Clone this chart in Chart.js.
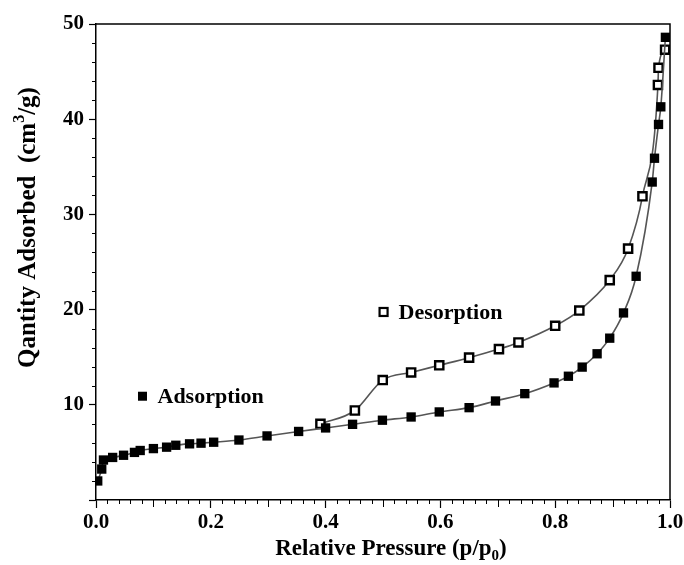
<!DOCTYPE html>
<html>
<head>
<meta charset="utf-8">
<script src="https://cdn.jsdelivr.net/npm/chart.js@4.4.1/dist/chart.umd.min.js"></script>
<style>
  html, body { margin: 0; padding: 0; background: #fff; }
</style>
</head>
<body>
<canvas id="isotherm" width="684" height="565"></canvas>
<script>
// values
const pressureAds = [0.003, 0.010, 0.013, 0.029, 0.048, 0.067, 0.077, 0.100, 0.123, 0.139,
  0.163, 0.183, 0.205, 0.249, 0.298, 0.353, 0.400, 0.447, 0.499, 0.549,
  0.598, 0.650, 0.696, 0.747, 0.798, 0.823, 0.847, 0.873, 0.895, 0.919,
  0.941, 0.969, 0.973, 0.980, 0.984, 0.992];
const quantityAds = [2.0, 3.25, 4.2, 4.47, 4.7, 5.0, 5.2, 5.4, 5.55, 5.75,
  5.9, 5.97, 6.07, 6.3, 6.73, 7.2, 7.57, 7.95, 8.38, 8.72,
  9.25, 9.7, 10.4, 11.17, 12.3, 13.0, 13.96, 15.36, 17.0, 19.65,
  23.5, 33.4, 35.9, 39.45, 41.3, 48.6];

const pressureDes = [0.391, 0.451, 0.4995, 0.549, 0.598, 0.650, 0.702, 0.736, 0.800, 0.842,
  0.895, 0.927, 0.952, 0.979, 0.980, 0.9915];
const quantityDes = [8.0, 9.4, 12.6, 13.4, 14.15, 14.95, 15.85, 16.55, 18.3, 19.9,
  23.1, 26.4, 31.9, 43.6, 45.4, 47.3];

const xMajor = [0, 0.2, 0.4, 0.6, 0.8, 1.0];
const yMajor = [0, 10, 20, 30, 40, 50];

const serif = '"Liberation Serif", "Times New Roman", "DejaVu Serif", serif';

function pts(xs, ys) {
  return xs.map((x, i) => ({ x: x, y: ys[i] }));
}

// draws text pieces [text, size, raise] one after another
function drawPieces(ctx, pieces, x0, y0) {
  let x = x0;
  pieces.forEach(p => {
    ctx.font = 'bold ' + p[1] + 'px ' + serif;
    ctx.fillText(p[0], x, y0 - p[2]);
    x += ctx.measureText(p[0]).width;
  });
  return x - x0;
}
function piecesWidth(ctx, pieces) {
  let w = 0;
  pieces.forEach(p => {
    ctx.font = 'bold ' + p[1] + 'px ' + serif;
    w += ctx.measureText(p[0]).width;
  });
  return w;
}

// frame, minor ticks, axis titles and the two in-plot labels
const extras = {
  id: 'extras',
  afterDraw(chart) {
    const { ctx, chartArea: a, scales: { x, y } } = chart;
    ctx.save();
    ctx.strokeStyle = '#000';
    ctx.lineWidth = 1.5;
    ctx.beginPath();
    ctx.moveTo(a.left, a.top);
    ctx.lineTo(a.right, a.top);
    ctx.lineTo(a.right, a.bottom);
    ctx.stroke();

    ctx.lineWidth = 1;
    ctx.beginPath();
    for (let i = 1; i < 50; i++) {
      if (i % 10 === 0) continue;
      const px = Math.round(x.getPixelForValue(i / 50)) + 0.5;
      const len = i % 5 === 0 ? 7 : 4;
      ctx.moveTo(px, a.bottom);
      ctx.lineTo(px, a.bottom + len);
    }
    for (let i = 1; i < 25; i++) {
      if (i % 5 === 0) continue;
      const py = Math.round(y.getPixelForValue(i * 2)) + 0.5;
      ctx.moveTo(a.left, py);
      ctx.lineTo(a.left - 4, py);
    }
    ctx.stroke();

    ctx.fillStyle = '#000';
    ctx.textBaseline = 'alphabetic';
    ctx.textAlign = 'left';

    // x title
    const xt = [['Relative Pressure (p/p', 23, 0], ['0', 15, -5], [')', 23, 0]];
    const xw = piecesWidth(ctx, xt);
    drawPieces(ctx, xt, 391 - xw / 2, 555);

    // y title, rotated
    const yt = [['Qantity Adsorbed  (cm', 25, 0], ['3', 16, 11], ['/g)', 25, 0]];
    ctx.save();
    ctx.translate(35, 368);
    ctx.rotate(-Math.PI / 2);
    drawPieces(ctx, yt, 0, 0);
    ctx.restore();

    // in-plot labels
    ctx.font = 'bold 22px ' + serif;
    let px = x.getPixelForValue(0.081), py = y.getPixelForValue(10.9);
    ctx.fillRect(px - 4.5, py - 4.5, 9, 9);
    ctx.fillText('Adsorption', px + 15, py + 7);
    px = x.getPixelForValue(0.501); py = y.getPixelForValue(19.75);
    ctx.lineWidth = 2.2;
    ctx.strokeRect(px - 4, py - 4, 8, 8);
    ctx.fillText('Desorption', px + 15, py + 7);
    ctx.restore();
  }
};

new Chart(document.getElementById('isotherm'), {
  type: 'scatter',
  data: {
    datasets: [
      {
        label: 'Adsorption',
        data: pts(pressureAds, quantityAds),
        showLine: true,
        borderColor: '#555',
        borderWidth: 1.6,
        cubicInterpolationMode: 'monotone',
        pointStyle: 'rect',
        pointRadius: 6.6,
        pointBackgroundColor: '#000',
        pointBorderColor: '#000',
        pointBorderWidth: 0
      },
      {
        label: 'Desorption',
        data: pts(pressureDes, quantityDes),
        showLine: true,
        borderColor: '#555',
        borderWidth: 1.6,
        cubicInterpolationMode: 'monotone',
        pointStyle: 'rect',
        pointRadius: 5.8,
        pointBackgroundColor: '#fff',
        pointBorderColor: '#000',
        pointBorderWidth: 2.4
      }
    ]
  },
  options: {
    responsive: false,
    animation: false,
    devicePixelRatio: 1,
    layout: { padding: { left: 0, right: 14, top: 24, bottom: 0 } },
    plugins: { legend: { display: false }, tooltip: { enabled: false } },
    scales: {
      x: {
        type: 'linear',
        min: 0,
        max: 1,
        afterBuildTicks: s => { s.ticks = xMajor.map(v => ({ value: v })); },
        afterFit: s => { s.height = 65; s.paddingLeft = 0; s.paddingRight = 0; },
        ticks: {
          callback: v => v.toFixed(1),
          color: '#000',
          font: { family: serif, size: 21, weight: 'bold' },
          padding: 2,
          maxRotation: 0
        },
        grid: { drawOnChartArea: false, color: '#000', tickLength: 8, tickWidth: 1.2 },
        border: { color: '#000', width: 1.5 }
      },
      y: {
        min: 0,
        max: 50,
        afterBuildTicks: s => { s.ticks = yMajor.map(v => ({ value: v })); },
        afterFit: s => { s.width = 96; },
        ticks: {
          callback: v => (v === 0 ? '' : v),
          color: '#000',
          font: { family: serif, size: 21, weight: 'bold' },
          padding: 5
        },
        grid: { drawOnChartArea: false, color: '#000', tickLength: 7, tickWidth: 1.2 },
        border: { color: '#000', width: 1.5 }
      }
    }
  },
  plugins: [extras]
});
</script>
</body>
</html>
